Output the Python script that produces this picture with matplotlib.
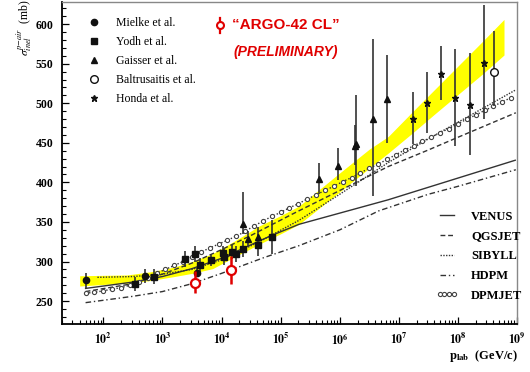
import numpy as np
import matplotlib
matplotlib.use('Agg')
import matplotlib.pyplot as plt
from matplotlib.ticker import FixedLocator, MultipleLocator, LogLocator, FuncFormatter, NullFormatter

plt.rcParams['font.family'] = ['Liberation Serif', 'DejaVu Serif']
plt.rcParams['mathtext.fontset'] = 'stix'

# ---- accelerator / cosmic ray measurements: p_lab (GeV/c), sigma (mb) ----
mielke_p = [5.0e1, 5.0e2, 3.9e3]
mielke_s = [276, 282, 286]
mielke_err = [10, 9, 6]

yodh_p = [3.47e2, 7.24e2, 2.45e3, 3.55e3, 4.27e3, 6.6e3, 1.05e4, 1.1e4, 1.48e4, 1.74e4, 2.29e4, 4.17e4, 7.08e4]
yodh_s = [272, 281, 303, 310, 296, 302, 311, 306, 312, 309, 316, 321, 331]
yodh_err = [9, 9, 10, 10, 9, 8, 9, 10, 9, 10, 10, 14, 21]

gaisser_p = [2.34e4, 2.82e4, 4.17e4, 4.47e5, 9.33e5, 1.82e6, 1.91e6, 3.63e6, 6.31e6]
gaisser_s = [348, 329, 331, 404, 421, 446, 449, 480, 505]
gaisser_lo = [13, 10, 12, 19, 18, 24, 54, 97, 55]
gaisser_hi = [40, 10, 12, 21, 23, 26, 62, 101, 56]

baltrusaitis_p = [4.07e8]
baltrusaitis_s = [540]
baltrusaitis_lo = [44]
baltrusaitis_hi = [51]

honda_p = [1.74e7, 3.02e7, 5.13e7, 8.91e7, 1.58e8, 2.75e8]
honda_s = [480, 500, 537, 507, 498, 551]
honda_lo = [32, 37, 33, 61, 63, 71]
honda_hi = [34, 39, 35, 62, 66, 73]

# ARGO-YBJ preliminary points
argo_p = [3.5e3, 1.45e4]
argo_s = [273, 289]
argo_lo = [13, 17]
argo_hi = [15, 18]

# ---- yellow band ----
band_logp = [1.60, 2.00, 2.40, 2.80, 3.20, 3.50, 3.85, 4.20, 4.64, 5.00, 5.31, 6.00, 6.50, 6.82, 7.24, 7.60, 8.00, 8.40, 8.78]
band_lo = [269, 271, 272.5, 276, 281, 285, 291, 305, 322, 335, 347, 388, 418, 437, 463, 486, 511, 536, 561]
band_hi = [282, 282.5, 283, 287, 293, 300, 310, 325, 345, 358, 370, 412, 442, 458, 490, 517, 547, 577, 606]

# ---- hadronic interaction models ----
venus_logp = [1.70, 2.50, 3.00, 3.50, 4.00, 4.64, 4.85, 5.31, 6.82, 8.97]
venus_s = [266, 274, 281, 291, 304, 326, 333, 347, 378, 428]

qgsjet_logp = [1.70, 2.50, 3.00, 3.50, 4.00, 4.50, 5.20, 5.98, 6.82, 7.50, 8.00, 8.98]
qgsjet_s = [262, 272, 284, 298, 315, 333, 360, 389, 420, 441, 457, 488]

sibyll_logp = [1.90, 2.50, 3.00, 3.50, 4.00, 4.64, 5.31, 6.00, 6.82, 7.50, 8.00, 8.98]
sibyll_s = [280, 281, 284, 290, 302, 325, 352, 385, 425, 455, 476, 517]

hdpm_logp = [1.70, 2.50, 3.00, 3.50, 4.00, 4.72, 5.31, 6.00, 6.66, 7.50, 8.00, 8.98]
hdpm_s = [248, 256, 262, 272, 285, 305, 320, 340, 364, 385, 395, 416]

dpmjet_logp = [1.70, 1.85, 2.00, 2.15, 2.30, 2.45, 2.60, 2.75, 2.90, 3.05, 3.20, 3.35,
               3.50, 3.65, 3.80, 3.95, 4.10, 4.25, 4.40, 4.55, 4.70, 4.85, 5.00, 5.15,
               5.30, 5.45, 5.60, 5.75, 5.90, 6.05, 6.20, 6.35, 6.50, 6.65, 6.80, 6.95,
               7.10, 7.25, 7.40, 7.55, 7.70, 7.85, 8.00, 8.15, 8.30, 8.45, 8.60, 8.75, 8.90]
dpmjet_s = [260, 261, 263, 265, 267, 270, 274, 279, 285, 290, 295, 300,
            306, 312, 317, 322, 327, 332, 338, 345, 351, 357, 362, 368,
            373, 379, 384, 390, 395, 401, 406, 412, 418, 423, 429, 435,
            441, 446, 452, 457, 463, 468, 474, 480, 485, 491, 496, 502, 507]

x_ticks = [1e2, 1e3, 1e4, 1e5, 1e6, 1e7, 1e8, 1e9]
y_ticks = [250, 300, 350, 400, 450, 500, 550, 600]

red = '#e00000'

fig = plt.figure(figsize=(5.3, 3.72), dpi=100)
ax = fig.add_axes([0.117, 0.129, 0.8585, 0.8656])
ax.set_xscale('log')
ax.set_xlim(20, 1e9)
ax.set_ylim(221, 628)

ax.fill_between(10 ** np.array(band_logp), band_lo, band_hi, color='#ffff00', lw=0, zorder=1)

line_kw = dict(color='#333333', lw=1.0, zorder=2)
l_venus, = ax.plot(10 ** np.array(venus_logp), venus_s, ls='-', label='VENUS', **line_kw)
l_qgs, = ax.plot(10 ** np.array(qgsjet_logp), qgsjet_s, ls=(0, (3.5, 2)), label='QGSJET', **line_kw)
l_sib, = ax.plot(10 ** np.array(sibyll_logp), sibyll_s, ls=(0, (1, 1)), label='SIBYLL', **line_kw)
l_hdpm, = ax.plot(10 ** np.array(hdpm_logp), hdpm_s, ls=(0, (4, 2, 1, 2)), label='HDPM', **line_kw)
l_dpm, = ax.plot(10 ** np.array(dpmjet_logp), dpmjet_s, ls=(0, (1, 1.5)), marker='o', ms=3,
                 mfc='white', mec='#444444', mew=0.8, label='DPMJET', **line_kw)

err_kw = dict(color='#111111', ecolor='#333333', elinewidth=1.2, capsize=0, zorder=3)
e_mielke = ax.errorbar(mielke_p, mielke_s, yerr=mielke_err, fmt='o', ms=4.5, **err_kw)
e_yodh = ax.errorbar(yodh_p, yodh_s, yerr=yodh_err, fmt='s', ms=4.5, **err_kw)
e_gaisser = ax.errorbar(gaisser_p, gaisser_s, yerr=[gaisser_lo, gaisser_hi], fmt='^', ms=4.5, **err_kw)
e_balt = ax.errorbar(baltrusaitis_p, baltrusaitis_s, yerr=[baltrusaitis_lo, baltrusaitis_hi], fmt='o',
                     ms=5.5, mfc='white', mew=1.0, **err_kw)
e_honda = ax.errorbar(honda_p, honda_s, yerr=[honda_lo, honda_hi], fmt='*', ms=5, **err_kw)

ax.errorbar(argo_p, argo_s, yerr=[argo_lo, argo_hi], fmt='o', ms=6.5, mfc='white', mec=red,
            mew=1.6, ecolor=red, elinewidth=1.8, capsize=0, zorder=4)

# experiment legend (upper left)
leg1 = ax.legend(handles=[e_mielke[0], e_yodh[0], e_gaisser[0], e_balt[0], e_honda[0]],
                 labels=['Mielke et al.', 'Yodh et al.', 'Gaisser et al.', 'Baltrusaitis et al.', 'Honda et al.'],
                 loc='upper left', bbox_to_anchor=(0.0566, 0.952), frameon=False, borderpad=0,
                 borderaxespad=0, handlelength=1.0, handletextpad=1.4, labelspacing=0.58,
                 numpoints=1, prop=dict(size=8.5))
ax.add_artist(leg1)

# model legend (lower right)
ax.legend(handles=[l_venus, l_qgs, l_sib, l_hdpm, l_dpm], loc='upper left',
          bbox_to_anchor=(0.822, 0.352), frameon=False, borderpad=0, borderaxespad=0,
          handlelength=1.7, handletextpad=1.1, labelspacing=0.62, numpoints=4,
          prop=dict(size=9, weight='bold'))

# ARGO key and labels
ax.plot([0.347, 0.347], [0.903, 0.950], transform=ax.transAxes, color=red, lw=1.6, zorder=5)
ax.plot([0.347], [0.9286], 'o', ms=5, mfc='white', mec=red, mew=1.5, transform=ax.transAxes, zorder=6)
ax.text(0.373, 0.9286, '\u201cARGO-42 CL\u201d', transform=ax.transAxes, color=red, fontsize=11,
        fontweight='bold', family=['Liberation Sans Narrow', 'Liberation Sans', 'DejaVu Sans'],
        ha='left', va='center')
ax.text(0.3765, 0.8457, '(PRELIMINARY)', transform=ax.transAxes, color=red, fontsize=10,
        fontweight='bold', style='italic', family=['Liberation Sans Narrow', 'Liberation Sans', 'DejaVu Sans'],
        ha='left', va='center')

# axes, ticks
ax.yaxis.set_major_locator(FixedLocator(y_ticks))
ax.yaxis.set_minor_locator(MultipleLocator(10))
ax.xaxis.set_major_locator(FixedLocator(x_ticks))
ax.xaxis.set_minor_locator(LogLocator(base=10, subs=np.arange(2, 10), numticks=20))
ax.xaxis.set_major_formatter(FuncFormatter(lambda v, pos: r'$\mathbf{10^{%d}}$' % round(np.log10(v))))
ax.xaxis.set_minor_formatter(NullFormatter())
ax.tick_params(which='both', direction='in', top=False, right=False)
ax.tick_params(which='major', length=5, width=0.9, labelsize=8.5)
ax.tick_params(which='minor', length=2.8, width=0.8)
ax.tick_params(axis='x', pad=6)
ax.tick_params(axis='y', pad=6)
for lab in ax.get_yticklabels():
    lab.set_fontweight('bold')

for side in ['top', 'right']:
    ax.spines[side].set_color('#888888')
    ax.spines[side].set_linewidth(1.0)
for side in ['left', 'bottom']:
    ax.spines[side].set_color('black')
    ax.spines[side].set_linewidth(1.3)

fig.text(25 / 530, 1 - 28 / 372, r'$\sigma^{p\mathrm{-}air}_{inel}$  (mb)', rotation=90,
         ha='center', va='center', fontsize=8.5)
fig.text(518 / 530, 16 / 372, r'$\mathbf{p}_{\mathbf{lab}}$  (GeV/c)', ha='right', va='center',
         fontsize=9, fontweight='bold')

fig.savefig('out.png', dpi=100)
